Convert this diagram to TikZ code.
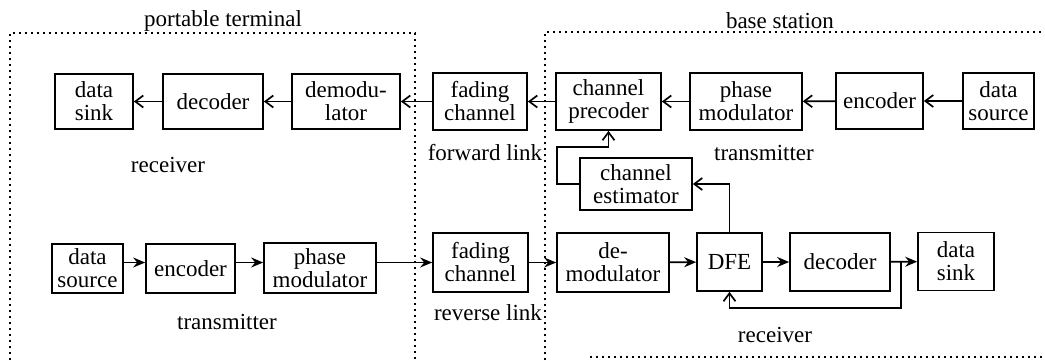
\documentclass[tikz,border=0pt]{standalone}
\usepackage{fontspec}
\setmainfont{Liberation Serif}
\newfontfamily\tmsfont{Liberation Serif}
\usetikzlibrary{arrows.meta}
\newcommand{\fs}{\tmsfont\fontsize{11.5}{11.5}\selectfont}
\begin{document}
\begin{tikzpicture}[x=0.5pt,y=-0.5pt,
  blk/.style={draw, line width=0.85pt, align=center, inner sep=0pt, font=\fs},
  lbl/.style={inner sep=0pt, font=\fs},
  arrtop/.style={line width=0.85pt, -{Straight Barb[length=4pt,width=6pt,line width=0.85pt]}},
  arrbot/.style={line width=0.85pt, -{Stealth[length=6pt,width=5pt,inset=2pt]}},
  frame/.style={line width=0.9pt, dash pattern=on 0.9pt off 2.1pt}]
\useasboundingbox (0,0) rectangle (1045,360);
% frames
\draw[frame] (10,360) -- (10,33) -- (415,33) -- (415,360);
\draw[frame] (545,360) -- (545,32) -- (1045,32);
\draw[frame] (590,357) -- (1045,357);
\node[lbl] (lpt) at (223,21) {portable terminal};
\node[lbl] (lbs) at (780,21) {base station};
% top row
\node[blk, minimum width=39pt, minimum height=27.5pt] (tsink) at (94,101.5) {data\\sink};
\node[blk, minimum width=50pt, minimum height=27.5pt] (tdec) at (213,101.5) {decoder};
\node[blk, minimum width=54pt, minimum height=27.5pt] (tdemod) at (346,101.5) {demodu-\\lator};
\node[blk, minimum width=47pt, minimum height=28.5pt] (tfade) at (480,101.5) {fading\\channel};
\node[blk, minimum width=52.5pt, minimum height=28.5pt] (prec) at (608.5,101.5) {channel\\precoder};
\node[blk, minimum width=56pt, minimum height=28.5pt] (tpm) at (746,101.5) {phase\\modulator};
\node[blk, minimum width=43.5pt, minimum height=28pt] (tenc) at (879.5,101) {encoder};
\node[blk, minimum width=35.5pt, minimum height=28pt] (tsrc) at (998.5,101) {data\\source};
\node[blk, minimum width=56pt, minimum height=26pt] (est) at (636,184) {channel\\estimator};
% bottom row
\node[blk, minimum width=35.5pt, minimum height=24.5pt] (bsrc) at (87.5,268.5) {data\\source};
\node[blk, minimum width=44.5pt, minimum height=24.5pt] (benc) at (190.5,268.5) {encoder};
\node[blk, minimum width=56pt, minimum height=25pt] (bpm) at (320,268) {phase\\modulator};
\node[blk, minimum width=47.5pt, minimum height=29.5pt] (bfade) at (480.5,262.5) {fading\\channel};
\node[blk, minimum width=56pt, minimum height=29.5pt] (bdemod) at (613,262.5) {de-\\modulator};
\node[blk, minimum width=32.5pt, minimum height=29pt] (dfe) at (729.5,262) {DFE};
\node[blk, minimum width=50pt, minimum height=29pt] (bdec) at (840,262) {decoder};
\node[blk, minimum width=38pt, minimum height=29pt] (bsink) at (956,261.5) {data\\sink};
% labels
\node[lbl] (lrt) at (168,165) {receiver};
\node[lbl] (lfl) at (485,153) {forward link};
\node[lbl] (ltt) at (764,153) {transmitter};
\node[lbl] (ltb) at (227,322) {transmitter};
\node[lbl] (lrl) at (488,313) {reverse link};
\node[lbl] (lrb) at (775,335) {receiver};
% top connectors
\draw[arrtop] (tsrc) -- (tenc);
\draw[arrtop] (tenc) -- (tpm);
\draw[arrtop] (tpm) -- (prec);
\draw[arrtop] (prec) -- (tfade);
\draw[arrtop] (tfade) -- (tdemod);
\draw[arrtop] (tdemod) -- (tdec);
\draw[arrtop] (tdec) -- (tsink);
% bottom connectors
\draw[arrbot] (bsrc.east |- bfade.west) -- (benc.west |- bfade.west);
\draw[arrbot] (benc.east |- bfade.west) -- (bpm.west |- bfade.west);
\draw[arrbot] (bpm.east |- bfade.west) -- (bfade.west);
\draw[arrbot] (bfade) -- (bdemod);
\draw[arrbot] (bdemod) -- (dfe);
\draw[arrbot] (dfe) -- (bdec);
\draw[arrbot] (bdec) -- (bsink);
% feedback loops
\coordinate (jn) at (901,262);
\coordinate (jd) at (901,308);
\draw[arrtop] (jn) -- (jd) -| (dfe.south);
\draw[arrtop] (dfe.north) |- (est.east);
\coordinate (k) at (557,147);
\draw[arrtop] (est.west) -| (k) -| (prec.south);
\end{tikzpicture}
\end{document}
